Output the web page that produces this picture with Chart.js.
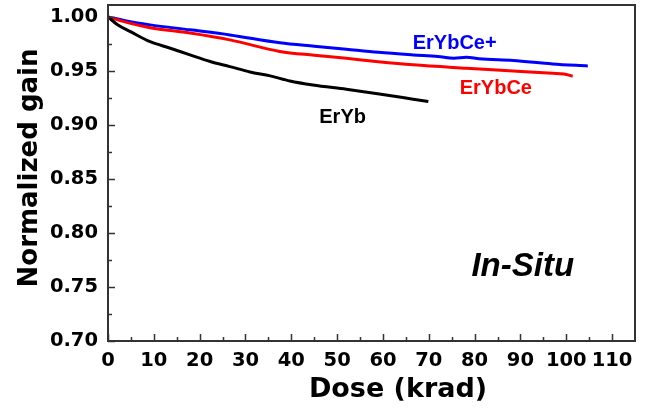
<!DOCTYPE html>
<html>
<head>
<meta charset="utf-8">
<script src="https://cdn.jsdelivr.net/npm/chart.js@4/dist/chart.umd.min.js"></script>
<style>
  html, body { margin: 0; padding: 0; background: #fff; }
  canvas { display: block; }
</style>
</head>
<body>
<canvas id="gainChart" width="646" height="411"></canvas>
<script>
(function() {
    'use strict';

    // dose (krad) / normalized gain
    const erybDose   = [0, 2, 4.9, 9.2, 13.6, 17.9, 22.3, 26.6, 31.0, 35.4, 39.7, 44.7, 52.0, 59.2, 66.6, 69.9];
    const erybGain   = [1.000, 0.993, 0.9864, 0.977, 0.971, 0.9648, 0.9587, 0.954, 0.949, 0.9454, 0.9407, 0.937, 0.933, 0.9287, 0.9238, 0.9216];

    const erybceDose = [0, 4.9, 9.2, 17.9, 26.6, 37.5, 45.0, 52.0, 59.0, 66.6, 78.2, 88.4, 97.0, 99.5, 101.4];
    const erybceGain = [1.000, 0.994, 0.990, 0.985, 0.9787, 0.968, 0.9645, 0.9617, 0.9585, 0.9556, 0.9525, 0.950, 0.9478, 0.9472, 0.945];

    const erybcepDose = [0, 4.9, 9.2, 17.9, 26.6, 37.5, 45.0, 52.0, 59.0, 66.6, 72.0, 75.5, 78.2, 81.0, 88.4, 97.0, 104.7];
    const erybcepGain = [1.000, 0.9955, 0.9926, 0.988, 0.9833, 0.976, 0.9728, 0.970, 0.9672, 0.9648, 0.9633, 0.9618, 0.9627, 0.9612, 0.9596, 0.9565, 0.9546];

    const xTicks = [0, 10, 20, 30, 40, 50, 60, 70, 80, 90, 100, 110];
    const yTicks = [0.70, 0.75, 0.80, 0.85, 0.90, 0.95, 1.00];

    const toPoints = (xs, ys) => xs.map((x, i) => ({ x: x, y: ys[i] }));

    // series labels, placed in data units
    const seriesLabels = [
        { text: 'ErYbCe+', x: 66.5, y: 0.9701, color: '#0000ff', font: 'bold 20px "Liberation Sans", Arial, sans-serif' },
        { text: 'ErYbCe',  x: 76.75, y: 0.9284, color: '#ff0000', font: 'bold 20px "Liberation Sans", Arial, sans-serif' },
        { text: 'ErYb',    x: 46.1, y: 0.9016, color: '#000000', font: 'bold 20px "Liberation Sans", Arial, sans-serif' },
        { text: 'In-Situ', x: 79.3, y: 0.7602, color: '#000000', font: 'italic bold 33px "Liberation Sans", Arial, sans-serif' }
    ];

    const frameColor = '#333333';

    const framePlugin = {
        id: 'frame',
        afterDraw: function(chart) {
            const ctx = chart.ctx;
            const a = chart.chartArea;
            const xs = chart.scales.x;
            const ys = chart.scales.y;
            ctx.save();
            ctx.strokeStyle = frameColor;
            ctx.lineWidth = 2;
            ctx.strokeRect(a.left, a.top, a.right - a.left, a.bottom - a.top);

            // inward ticks, major + minor
            ctx.lineWidth = 1.5;
            ctx.beginPath();
            for (let v = 0; v <= 110; v += 5) {
                const px = Math.round(xs.getPixelForValue(v)) + 0.5;
                const len = v % 10 === 0 ? 7 : 4;
                ctx.moveTo(px, a.bottom);
                ctx.lineTo(px, a.bottom - len);
            }
            for (let i = 0; i <= 12; i++) {
                const v = 0.70 + i * 0.025;
                const py = Math.round(ys.getPixelForValue(v)) + 0.5;
                const len = i % 2 === 0 ? 7 : 4;
                ctx.moveTo(a.left, py);
                ctx.lineTo(a.left + len, py);
            }
            ctx.stroke();

            // text labels
            ctx.textAlign = 'left';
            ctx.textBaseline = 'alphabetic';
            seriesLabels.forEach(function(l) {
                ctx.font = l.font;
                ctx.fillStyle = l.color;
                ctx.fillText(l.text, xs.getPixelForValue(l.x), ys.getPixelForValue(l.y));
            });

            // axis titles
            ctx.fillStyle = '#000';
            ctx.font = 'bold 27px "DejaVu Sans", sans-serif';
            ctx.textAlign = 'center';
            ctx.fillText('Dose (krad)', 398, 397);
            ctx.save();
            ctx.translate(37, 168);
            ctx.rotate(-Math.PI / 2);
            ctx.font = 'bold 26px "DejaVu Sans", sans-serif';
            ctx.fillText('Normalized gain', 0, 0);
            ctx.restore();
            ctx.restore();
        }
    };

    const lineSet = (label, pts, color) => ({
        label: label,
        data: pts,
        borderColor: color,
        borderWidth: 3,
        pointRadius: 0,
        tension: 0.4,
        cubicInterpolationMode: 'monotone',
        fill: false
    });

    const tickFont = { family: '"DejaVu Sans", sans-serif', size: 19.5, weight: 'bold' };

    new Chart(document.getElementById('gainChart'), {
        type: 'line',
        data: {
            datasets: [
                lineSet('ErYb', toPoints(erybDose, erybGain), '#000000'),
                lineSet('ErYbCe', toPoints(erybceDose, erybceGain), '#ff0000'),
                lineSet('ErYbCe+', toPoints(erybcepDose, erybcepGain), '#0000ff')
            ]
        },
        options: {
            responsive: false,
            animation: false,
            layout: { padding: { top: 5, right: 11, left: 0, bottom: 0 } },
            plugins: { legend: { display: false }, tooltip: { enabled: false } },
            scales: {
                x: {
                    type: 'linear',
                    min: 0,
                    max: 115,
                    afterBuildTicks: function(s) { s.ticks = xTicks.map(v => ({ value: v })); },
                    afterFit: function(s) {
                        s.height = 70;
                        s.paddingLeft = 0;
                        s.paddingRight = 0;
                    },
                    grid: { display: false, drawTicks: false },
                    border: { display: false },
                    ticks: {
                        font: tickFont,
                        color: '#000',
                        padding: 8,
                        maxRotation: 0,
                        autoSkip: false,
                        callback: v => String(v)
                    }
                },
                y: {
                    min: 0.70,
                    max: 1.011,
                    afterBuildTicks: function(s) { s.ticks = yTicks.map(v => ({ value: v })); },
                    afterFit: function(s) {
                        s.width = 108;
                        s.paddingTop = 0;
                        s.paddingBottom = 0;
                    },
                    grid: { display: false, drawTicks: false },
                    border: { display: false },
                    ticks: {
                        font: tickFont,
                        color: '#000',
                        padding: 10,
                        autoSkip: false,
                        callback: v => v.toFixed(2)
                    }
                }
            }
        },
        plugins: [framePlugin]
    });
})();
</script>
</body>
</html>
